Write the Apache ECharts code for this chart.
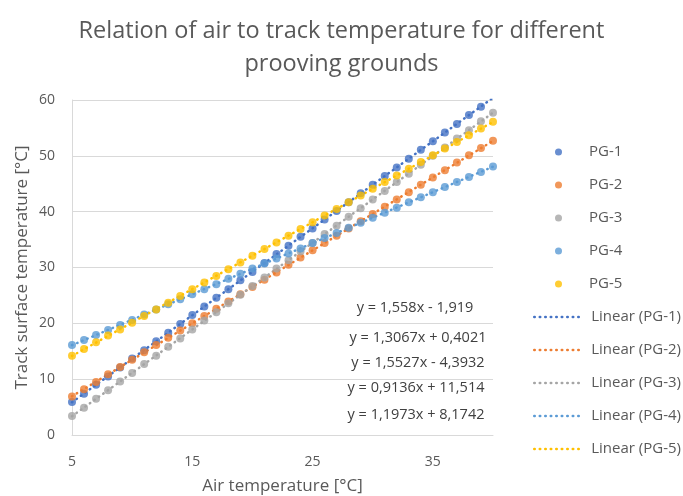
<!DOCTYPE html>
<html>
<head>
<meta charset="utf-8">
<script src="https://cdn.jsdelivr.net/npm/echarts@6/dist/echarts.min.js"></script>
<style>html,body{margin:0;padding:0;background:#fff}#c{width:683px;height:496px}</style>
</head>
<body>
<div id="c"></div>
<script>
const airTemp = [5,6,7,8,9,10,11,12,13,14,15,16,17,18,19,20,21,22,23,24,25,26,27,28,29,30,31,32,33,34,35,36,37,38,39,40];
const pg1 = [5.9,7.4,9.0,10.5,12.1,13.7,15.2,16.8,18.3,19.9,21.5,23.0,24.6,26.1,27.7,29.2,30.8,32.4,33.9,35.5,37.0,38.6,40.1,41.7,43.3,44.8,46.4,47.9,49.5,51.1,52.6,54.2,55.7,57.3,58.8,60.4];
const pg2 = [6.9,8.2,9.5,10.9,12.2,13.5,14.8,16.1,17.4,18.7,20.0,21.3,22.6,23.9,25.2,26.5,27.8,29.1,30.5,31.8,33.1,34.4,35.7,37.0,38.3,39.6,40.9,42.2,43.5,44.8,46.1,47.4,48.8,50.1,51.4,52.7];
const pg3 = [3.4,4.9,6.5,8.0,9.6,11.1,12.7,14.2,15.8,17.3,18.9,20.5,22.0,23.6,25.1,26.7,28.2,29.8,31.3,32.9,34.4,36.0,37.5,39.1,40.6,42.2,43.7,45.3,46.8,48.4,50.0,51.5,53.1,54.6,56.2,57.7];
const pg4 = [16.1,17.0,17.9,18.8,19.7,20.6,21.6,22.5,23.4,24.3,25.2,26.1,27.0,28.0,28.9,29.8,30.7,31.6,32.5,33.4,34.4,35.3,36.2,37.1,38.0,38.9,39.8,40.7,41.7,42.6,43.5,44.4,45.3,46.2,47.1,48.1];
const pg5 = [14.2,15.4,16.6,17.8,18.9,20.1,21.3,22.5,23.7,24.9,26.1,27.3,28.5,29.7,30.9,32.1,33.3,34.5,35.7,36.9,38.1,39.3,40.5,41.7,42.9,44.1,45.3,46.5,47.7,48.9,50.1,51.3,52.5,53.7,54.9,56.1];
const seriesNames = ['PG-1','PG-2','PG-3','PG-4','PG-5'];
const trendNames = ['Linear (PG-1)','Linear (PG-2)','Linear (PG-3)','Linear (PG-4)','Linear (PG-5)'];
const slopes = [1.558, 1.3067, 1.5527, 0.9136, 1.1973];
const intercepts = [-1.919, 0.4021, -4.3932, 11.514, 8.1742];
const equations = ['y = 1,558x - 1,919','y = 1,3067x + 0,4021','y = 1,5527x - 4,3932','y = 0,9136x + 11,514','y = 1,1973x + 8,1742'];
const xTicks = [5,15,25,35];
const yTicks = [0,10,20,30,40,50,60];

const colors = ['#4472C4','#ED7D31','#A5A5A5','#5B9BD5','#FFC000'];
const allData = [pg1,pg2,pg3,pg4,pg5];
const FONT = 'Open Sans';
const TXT = '#595959';

const series = [];
allData.forEach((d,i)=>{
  series.push({
    name: seriesNames[i], type:'scatter', symbol:'circle', symbolSize:8,
    itemStyle:{color:colors[i]}, z:3,
    data: airTemp.map((x,k)=>[x,d[k]])
  });
});
allData.forEach((d,i)=>{
  const x0 = airTemp[0], x1 = airTemp[airTemp.length-1];
  series.push({
    name: trendNames[i], type:'line', showSymbol:false, symbol:'none', z:2,
    lineStyle:{color:colors[i], width:2.5, type:[0.5,5], cap:'round'},
    itemStyle:{color:colors[i]},
    data: [[x0, slopes[i]*x0+intercepts[i]],[x1, slopes[i]*x1+intercepts[i]]]
  });
});

const eqPos = [[415,308],[418,338],[418,363],[416,388],[416,415]];
const graphics = equations.map((t,i)=>({
  type:'text', x:eqPos[i][0], y:eqPos[i][1],
  style:{text:t, font:'14.5px "Open Sans"', fill:'#404040', textAlign:'center', textVerticalAlign:'middle'}
}));

const chart = echarts.init(document.getElementById('c'), null, {renderer:'canvas'});
chart.setOption({
  animation:false,
  title:{
    text:'Relation of air to track temperature for different\nprooving grounds',
    left:'center', top:10,
    textStyle:{fontFamily:FONT, fontSize:23.5, fontWeight:'normal', color:TXT, lineHeight:33}
  },
  grid:{left:72, right:190, top:100, bottom:61, containLabel:false, outerBoundsMode:'none'},
  legend:[{
    orient:'vertical', left:555, top:142, itemGap:13, padding:0,
    icon:'circle', itemWidth:7, itemHeight:7,
    data:seriesNames,
    textStyle:{fontFamily:FONT, fontSize:15, color:TXT, lineHeight:20, padding:[0,0,0,22]}
  },{
    orient:'vertical', left:533, top:307, itemGap:13, padding:0,
    itemWidth:49, itemHeight:14,
    itemStyle:{opacity:0},
    lineStyle:{width:2.5},
    data:trendNames,
    textStyle:{fontFamily:FONT, fontSize:15, color:TXT, lineHeight:20, padding:[0,0,0,3]}
  }],
  xAxis:{
    type:'value', min:5, max:40,
    name:'Air temperature [°C]', nameLocation:'middle', nameGap:43,
    nameTextStyle:{fontFamily:FONT, fontSize:17, color:TXT},
    axisLine:{show:true, lineStyle:{color:'#d9d9d9', width:1}},
    axisTick:{show:false},
    splitLine:{show:false},
    axisLabel:{customValues:xTicks, fontFamily:FONT, fontSize:14, color:TXT, margin:20}
  },
  yAxis:{
    type:'value', min:0, max:60, interval:10,
    name:'Track surface temperature [°C]', nameLocation:'middle', nameGap:41,
    nameMoveOverlap:false,
    nameTextStyle:{fontFamily:FONT, fontSize:17, color:TXT},
    axisLine:{show:true, lineStyle:{color:'#d9d9d9', width:1}},
    axisTick:{show:false},
    splitLine:{show:true, lineStyle:{color:'#d9d9d9', width:1}},
    axisLabel:{fontFamily:FONT, fontSize:14, color:TXT, margin:17,
      formatter:(v)=> yTicks.indexOf(v)>=0 ? String(v) : ''}
  },
  graphic: graphics,
  series: series
});
</script>
</body>
</html>
